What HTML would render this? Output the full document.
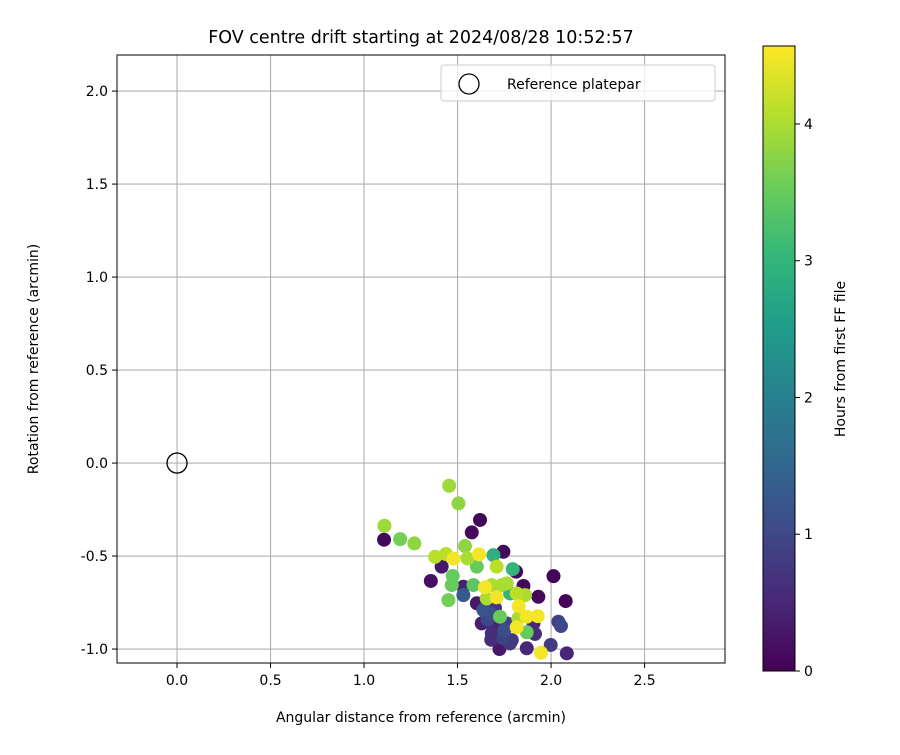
<!DOCTYPE html>
<html><head><meta charset="utf-8"><style>
body{margin:0;background:#fff;font-family:"Liberation Sans","DejaVu Sans",sans-serif}
svg text{font-family:"DejaVu Sans","Liberation Sans",sans-serif;fill:#000}
</style></head><body>
<svg id="c" width="900" height="750" xmlns="http://www.w3.org/2000/svg"></svg>
<script>
const xs=[1.455,1.505,1.62,1.576,1.109,1.107,1.193,1.269,1.38,1.438,1.478,1.54,1.553,1.615,1.692,1.745,1.603,1.709,1.795,1.813,1.415,1.357,1.474,1.469,1.451,1.531,1.585,1.647,1.683,1.736,1.709,1.656,1.781,1.852,1.816,1.861,1.932,2.013,2.078,1.827,1.87,1.929,1.816,1.87,1.727,1.638,1.629,1.692,1.745,1.724,1.87,1.946,1.998,2.039,2.053,2.084,1.914,1.763,1.674,1.603,1.531,1.79,1.906,1.683,1.825,1.763,1.66,1.7,1.75,1.68,1.78];
const ys=[-0.122,-0.217,-0.306,-0.373,-0.337,-0.412,-0.409,-0.432,-0.504,-0.489,-0.514,-0.446,-0.513,-0.491,-0.495,-0.477,-0.557,-0.557,-0.57,-0.584,-0.557,-0.634,-0.607,-0.656,-0.737,-0.71,-0.656,-0.668,-0.656,-0.656,-0.722,-0.728,-0.701,-0.661,-0.701,-0.71,-0.719,-0.608,-0.742,-0.769,-0.826,-0.823,-0.883,-0.91,-0.826,-0.79,-0.862,-0.88,-0.943,-1.0,-0.996,-1.02,-0.978,-0.853,-0.876,-1.023,-0.919,-0.862,-0.808,-0.754,-0.665,-0.952,-0.862,-0.916,-0.835,-0.647,-0.84,-0.78,-0.9,-0.95,-0.97];
const hours=[3.9,3.8,0.05,0.1,3.9,0.1,3.6,3.8,4.1,4.1,4.5,3.8,4.0,4.5,2.9,0.1,3.5,4.1,3.0,0.1,0.3,0.2,3.5,3.5,3.6,1.3,3.4,4.5,4.0,4.0,4.5,4.0,3.0,0.1,4.1,4.0,0.1,0.05,0.05,4.5,4.5,4.5,4.5,3.5,3.5,1.2,0.4,0.5,0.9,0.3,0.5,4.5,0.8,0.9,1.0,0.5,0.6,0.9,1.1,0.3,0.4,0.8,0.5,0.6,4.0,4.0,1.0,0.7,1.1,0.6,0.8];
const xTicks=[0,0.5,1,1.5,2,2.5];
const yTicks=[-1,-0.5,0,0.5,1,1.5,2];
const cTicks=[0,1,2,3,4];
const xmin=-0.321,xmax=2.93,ymin=-1.075,ymax=2.194,cmax=4.57;
const L=117,R=725,T=55,B=663;
const X=v=>L+(v-xmin)/(xmax-xmin)*(R-L);
const Y=v=>B-(v-ymin)/(ymax-ymin)*(B-T);
const CT=46,CB=671,CY=v=>CB-v/cmax*(CB-CT);
const vir=[[68,1,84],[72,40,120],[62,73,137],[49,104,142],[38,130,142],[31,158,137],[53,183,121],[109,205,89],[180,222,44],[253,231,37]];
function cmap(t){t=Math.max(0,Math.min(1,t))*(vir.length-1);const i=Math.min(Math.floor(t),vir.length-2),f=t-i;const a=vir[i],b=vir[i+1];return `rgb(${a.map((v,k)=>Math.round(v+(b[k]-v)*f)).join(',')})`;}
const svg=document.getElementById('c');const NS='http://www.w3.org/2000/svg';
function el(tag,attrs,txt){const e=document.createElementNS(NS,tag);for(const k in attrs)e.setAttribute(k,attrs[k]);if(txt!==undefined)e.textContent=txt;svg.appendChild(e);return e;}
let e;
e=el('text',{x:421,y:43,'font-size':'17.5','text-anchor':'middle'},'FOV centre drift starting at 2024/08/28 10:52:57');


xTicks.forEach(v=>{const x=X(v);
e=el('line',{x1:x,x2:x,y1:T,y2:B,stroke:'#b0b0b0','stroke-width':1.1});


el('line',{x1:x,x2:x,y1:B,y2:B+5,stroke:'#000'});
e=el('text',{x:x,y:B+22,'font-size':'14','text-anchor':'middle'},v.toFixed(1));

});
yTicks.forEach(v=>{const y=Y(v);
e=el('line',{x1:L,x2:R,y1:y,y2:y,stroke:'#b0b0b0','stroke-width':1.1});


el('line',{x1:L-5,x2:L,y1:y,y2:y,stroke:'#000'});
e=el('text',{x:L-9,y:y+5,'font-size':'14','text-anchor':'end'},v.toFixed(1));

});
const order=hours.map((h,i)=>i).sort((a,b)=>hours[a]-hours[b]);
order.forEach(i=>{
e=el('circle',{cx:X(xs[i]),cy:Y(ys[i]),r:7,fill:cmap(hours[i]/cmax)});

});
e=el('circle',{cx:X(0),cy:Y(0),r:10,fill:'none',stroke:'#000','stroke-width':1.3});


e=el('rect',{x:L,y:T,width:R-L,height:B-T,fill:'none',stroke:'#000','stroke-width':1});


e=el('rect',{x:441,y:65,width:274,height:36,rx:3,fill:'#fff','fill-opacity':0.8,stroke:'#ccc'});


e=el('circle',{cx:469,cy:84,r:10,fill:'none',stroke:'#000','stroke-width':1.3});


e=el('text',{x:507,y:89,'font-size':'14'},'Reference platepar');


e=el('text',{x:421,y:722,'font-size':'14','text-anchor':'middle'},'Angular distance from reference (arcmin)');


e=el('text',{x:0,y:0,'font-size':'14','text-anchor':'middle',transform:'translate(38,359) rotate(-90)'},'Rotation from reference (arcmin)');


const defs=el('defs',{});const g=document.createElementNS(NS,'linearGradient');g.setAttribute('id','vg');g.setAttribute('x1','0');g.setAttribute('y1','1');g.setAttribute('x2','0');g.setAttribute('y2','0');
vir.forEach((c,i)=>{const s=document.createElementNS(NS,'stop');s.setAttribute('offset',i/(vir.length-1));s.setAttribute('stop-color',`rgb(${c.join(',')})`);g.appendChild(s);});defs.appendChild(g);
e=el('rect',{x:763,y:CT,width:32,height:CB-CT,fill:'url(#vg)',stroke:'#000','stroke-width':1});


cTicks.forEach(v=>{const y=CY(v);el('line',{x1:795,x2:800,y1:y,y2:y,stroke:'#000'});
e=el('text',{x:804,y:y+5,'font-size':'14'},String(v));

});
e=el('text',{x:0,y:0,'font-size':'14','text-anchor':'middle',transform:'translate(845,359) rotate(-90)'},'Hours from first FF file');


</script>
</body></html>
